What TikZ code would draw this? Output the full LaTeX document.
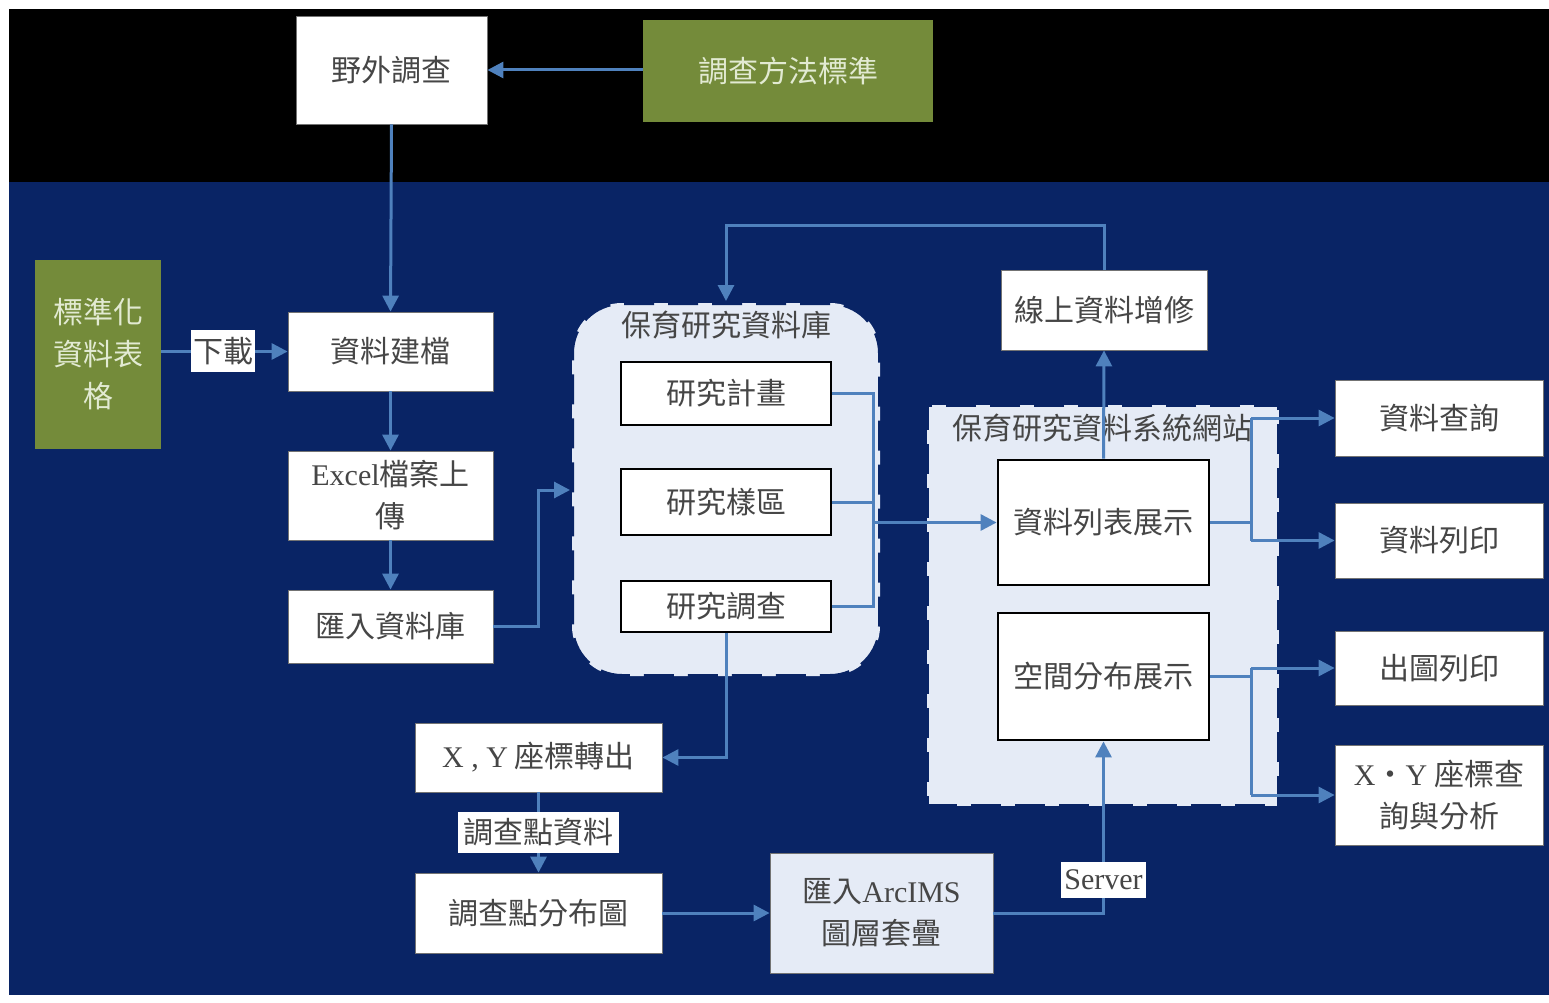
\documentclass[tikz,border=0pt]{standalone}
\usepackage{fontspec}
\setmainfont{Noto Sans CJK TC}
\newfontfamily\lat{Liberation Serif}
\usetikzlibrary{arrows.meta}
\definecolor{navy}{RGB}{9,36,101}
\definecolor{olivebox}{RGB}{116,139,58}
\definecolor{gtext}{RGB}{226,234,210}
\definecolor{linkblue}{RGB}{79,129,189}
\definecolor{lightfill}{RGB}{229,235,246}
\definecolor{txt}{RGB}{70,70,70}
\tikzset{
  fs/.style={font=\fontsize{30}{42}\selectfont},
  wbox/.style={fs, fill=white, draw=black!55, line width=0.8pt, inner sep=0pt, text=txt, align=center},
  bbox/.style={fs, fill=white, draw=black, line width=2.8pt, inner sep=0pt, text=txt, align=center},
  gbox/.style={fs, fill=olivebox, draw=none, inner sep=0pt, text=gtext, align=center},
  lbox/.style={fs, fill=lightfill, draw=black!55, line width=0.8pt, inner sep=0pt, text=txt, align=center},
  tag/.style={fs, fill=white, draw=none, inner sep=0pt, text=txt},
  cont/.style={fill=lightfill, draw=navy, dash pattern=on 30pt off 14pt, line width=4pt, inner sep=0pt},
  conn/.style={draw=linkblue, line width=3pt},
  connarrow/.style={conn, -{Triangle[length=16pt,width=16pt]}},
}
\begin{document}
\begin{tikzpicture}[x=1pt,y=-1pt]
\useasboundingbox (0,0) rectangle (1549,1003);
\fill[white] (0,0) rectangle (1549,1003);
\fill[black] (9,9) rectangle (1549,182);
\fill[navy] (9,182) rectangle (1549,995);

% containers
\node[cont, rounded corners=50pt, minimum width=308pt, minimum height=373pt] (db) at (726,489.5) {};
\node[fs, text=txt, inner sep=0pt] (dbt) at (726,325) {保育研究資料庫};
\node[cont, minimum width=352pt, minimum height=401pt] (sys) at (1103,605.5) {};
\node[fs, text=txt, inner sep=0pt] (syst) at (1102,428) {保育研究資料系統網站};

% nodes
\node[wbox, minimum width=191pt, minimum height=108pt] (ye) at (391.5,70) {野外調查};
\node[gbox, minimum width=290pt, minimum height=102pt] (std) at (788,71) {調查方法標準};
\node[gbox, minimum width=126pt, minimum height=189pt] (tbl) at (98,354.5) {標準化\\資料表\\格};
\node[wbox, minimum width=205pt, minimum height=79pt] (jd) at (390.5,351.5) {資料建檔};
\node[wbox, minimum width=205pt, minimum height=89pt] (ex) at (390.5,495.5) {{\lat Excel}檔案上\\傳};
\node[wbox, minimum width=205pt, minimum height=73pt] (im) at (390.5,626.5) {匯入資料庫};
\node[bbox, minimum width=210pt, minimum height=63pt] (p1) at (726,393.5) {研究計畫};
\node[bbox, minimum width=210pt, minimum height=66pt] (p2) at (726,502) {研究樣區};
\node[bbox, minimum width=210pt, minimum height=51pt] (p3) at (726,606.5) {研究調查};
\node[wbox, minimum width=206pt, minimum height=80pt] (online) at (1104,310) {線上資料增修};
\node[bbox, minimum width=211pt, minimum height=125pt] (list) at (1103.5,522.5) {資料列表展示};
\node[bbox, minimum width=211pt, minimum height=127pt] (spat) at (1103.5,676.5) {空間分布展示};
\node[wbox, minimum width=208pt, minimum height=76pt] (q) at (1439,418) {資料查詢};
\node[wbox, minimum width=208pt, minimum height=75pt] (pr) at (1439,540.5) {資料列印};
\node[wbox, minimum width=208pt, minimum height=74pt] (mp) at (1439,668) {出圖列印};
\node[wbox, minimum width=208pt, minimum height=100pt] (xyq) at (1439,795) {{\lat X}・{\lat Y} 座標查\\詢與分析};
\node[wbox, minimum width=247pt, minimum height=69pt] (xy) at (538.5,757.5) {{\lat X , Y} 座標轉出};
\node[wbox, minimum width=247pt, minimum height=80pt] (dist) at (538.5,913) {調查點分布圖};
\node[lbox, minimum width=223pt, minimum height=120pt] (arc) at (881.5,913) {匯入{\lat ArcIMS}\\圖層套疊};

% helper coordinates
\coordinate (c1) at (538,490);
\coordinate (bt) at (873,393.5);
\coordinate (bb) at (873,606.5);
\coordinate (tp) at (726,225);
\coordinate (rb1) at (1251,418);
\coordinate (rb2) at (1251,540.5);
\coordinate (rb3) at (1251,668);
\coordinate (rb4) at (1251,795);

% connectors
\draw[connarrow] (std.west |- ye.east) -- (ye.east);
\draw[connarrow] (ye.south) -- (jd.north);
\draw[connarrow] (tbl.east |- jd.west) -- (jd.west);
\draw[connarrow] (jd.south) -- (ex.north);
\draw[connarrow] (ex.south) -- (im.north);
\draw[connarrow] (im.east) -| (c1) -- (c1 -| db.west);
\draw[conn] (p1.east) -- (bt) -- (bb) -- (p3.east);
\draw[conn] (p2.east) -- (p2.east -| bt);
\draw[connarrow] (bt |- list.west) -- (list.west);
\draw[connarrow] (list.north) -- (online.south);
\draw[connarrow] (online.north) |- (tp) -- (db.north);
\draw[conn] (list.east) -- (list.east -| rb1);
\draw[conn] (rb1) -- (rb2);
\draw[connarrow] (rb1) -- (q.west);
\draw[connarrow] (rb2) -- (pr.west);
\draw[conn] (spat.east) -- (spat.east -| rb3);
\draw[conn] (rb3) -- (rb4);
\draw[connarrow] (rb3) -- (mp.west);
\draw[connarrow] (rb4) -- (xyq.west);
\draw[connarrow] (p3.south) |- (xy.east);
\draw[connarrow] (xy.south) -- (dist.north);
\draw[connarrow] (dist.east) -- (arc.west);
\draw[connarrow] (arc.east) -| (spat.south);

% connector labels
\node[tag, minimum width=64pt, minimum height=42pt] (dl) at (223,351) {下載};
\node[tag, minimum width=161pt, minimum height=41pt] (ptl) at (538.5,832.5) {調查點資料};
\node[tag, minimum width=85pt, minimum height=36pt] (srv) at (1103.5,880) {\lat Server};
\end{tikzpicture}
\end{document}
